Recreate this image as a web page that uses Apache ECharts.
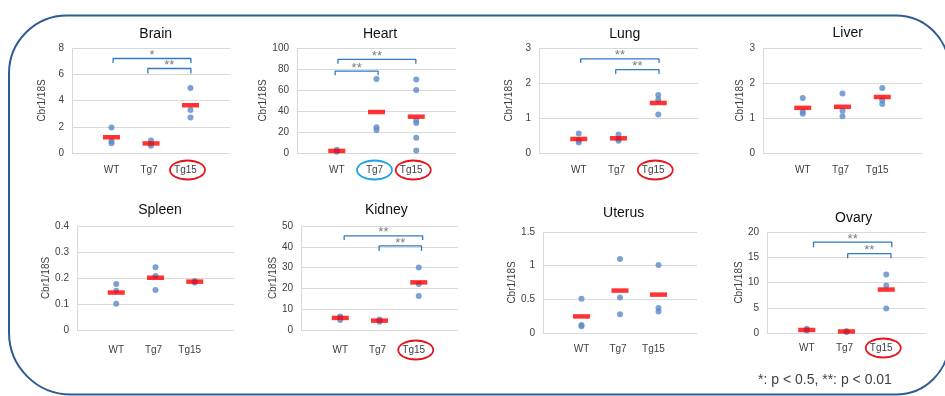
<!DOCTYPE html>
<html><head><meta charset="utf-8">
<script src="https://cdn.jsdelivr.net/npm/echarts@6/dist/echarts.min.js"></script>
<style>html,body{margin:0;padding:0;background:#fff}#c{width:945px;height:396px}</style>
</head><body><div id="c"></div>
<script>
// ---------- data ----------
const groupLabels = ['WT', 'Tg7', 'Tg15'];
const organNames = ['Brain', 'Heart', 'Lung', 'Liver', 'Spleen', 'Kidney', 'Uterus', 'Ovary'];
const yAxisName = 'Cbr1/18S';
const footnote = '*: p < 0.5, **: p < 0.01';

const brainDots = [[1.95, 0.9, 0.75], [0.95, 0.7, 0.55], [4.95, 3.28, 2.7]];
const brainMeans = [1.2, 0.73, 3.64];
const heartDots = [[3, 1.5, 1.5], [70.5, 24.5, 22], [70, 60, 31, 28.5, 14.5, 2.5]];
const heartMeans = [2, 39, 34.6];
const lungDots = [[0.56, 0.36, 0.3], [0.53, 0.4, 0.35], [1.66, 1.53, 1.1]];
const lungMeans = [0.4, 0.42, 1.43];
const liverDots = [[1.57, 1.18, 1.12], [1.7, 1.21, 1.05], [1.86, 1.51, 1.4]];
const liverMeans = [1.29, 1.32, 1.6];
const spleenDots = [[0.177, 0.151, 0.101], [0.241, 0.208, 0.154], [0.185, 0.188, 0.183]];
const spleenMeans = [0.144, 0.201, 0.186];
const kidneyDots = [[6.5, 6.1, 4.8], [5, 4.5, 4], [30.1, 22.1, 16.3]];
const kidneyMeans = [5.8, 4.5, 22.9];
const uterusDots = [[0.51, 0.12, 0.1], [1.1, 0.526, 0.28], [1.01, 0.37, 0.32]];
const uterusMeans = [0.246, 0.63, 0.57];
const ovaryDots = [[0.86, 0.6, 0.5], [0.3, 0.2, 0.35], [11.6, 9.4, 4.85]];
const ovaryMeans = [0.6, 0.3, 8.6];

const yMaxValues = [8, 100, 3, 3, 0.4, 50, 1.5, 20];
const yStepValues = [2, 20, 1, 1, 0.1, 10, 0.5, 5];

// significance brackets: [fromX, toX, barY, endY, stars]
const brainBrackets = [[1.04, 3.01, 7.2, 6.86, '*'], [1.92, 3.01, 6.44, 6.06, '**']];
const heartBrackets = [[1.03, 2.99, 89.2, 85, '**'], [0.96, 2.04, 78, 74, '**']];
const lungBrackets = [[1.05, 3.02, 2.69, 2.57, '**'], [1.93, 3.02, 2.38, 2.26, '**']];
const kidneyBrackets = [[1.1, 3.1, 45.3, 43.3, '**'], [1.99, 3.07, 40.4, 38, '**']];
const ovaryBrackets = [[1.17, 3.14, 18.0, 17.0, '**'], [2.03, 3.12, 15.7, 14.8, '**']];

// circled group labels: [groupIndex, colour]
const brainCircles = [[2, 'red']];
const heartCircles = [[1, 'blue'], [2, 'red']];
const lungCircles = [[2, 'red']];
const kidneyCircles = [[2, 'red']];
const ovaryCircles = [[2, 'red']];

const allDots = [brainDots, heartDots, lungDots, liverDots, spleenDots, kidneyDots, uterusDots, ovaryDots];
const allMeans = [brainMeans, heartMeans, lungMeans, liverMeans, spleenMeans, kidneyMeans, uterusMeans, ovaryMeans];
const allBrackets = [brainBrackets, heartBrackets, lungBrackets, [], [], kidneyBrackets, [], ovaryBrackets];
const allCircles = [brainCircles, heartCircles, lungCircles, [], [], kidneyCircles, [], ovaryCircles];

// ---------- layout / style ----------
const FONT = 'Liberation Sans, Arial, sans-serif';
const layout = [
  {left: 72, top: 48, width: 158, height: 105, nameGap: 25, margin: 12, tx: 155.7, ty: 34},
  {left: 297, top: 48, width: 159, height: 105, nameGap: 25, margin: 12, tx: 380, ty: 34},
  {left: 539, top: 48, width: 159, height: 105, nameGap: 25, margin: 12, tx: 624.7, ty: 34},
  {left: 763, top: 48, width: 159, height: 105, nameGap: 16, margin: 12, tx: 847.7, ty: 33},
  {left: 77, top: 226, width: 157, height: 104, nameGap: 23, margin: 15, tx: 160, ty: 210},
  {left: 301, top: 226, width: 157, height: 104, nameGap: 22, margin: 15, tx: 386.3, ty: 210},
  {left: 543, top: 232, width: 154, height: 101, nameGap: 24, margin: 11, tx: 623.7, ty: 213},
  {left: 767, top: 232, width: 159, height: 101, nameGap: 23, margin: 10, tx: 853.7, ty: 217.7}
];
const DOT = '#5B8BC9', MEAN = '#FF0000', BRACKET = '#2F7BC4', GRID = '#D9D9D9', TXT = '#404040';
const circleColors = {red: '#E8141B', blue: '#22A3E3'};

const grid = [], xAxis = [], yAxis = [], series = [], graphic = [];
layout.forEach((L, i) => {
  grid.push({left: L.left, top: L.top, width: L.width, height: L.height});
  xAxis.push({
    type: 'value', gridIndex: i, min: 0, max: groupLabels.length + 1, interval: 1,
    axisLine: {show: false}, axisTick: {show: false}, splitLine: {show: false},
    axisLabel: {
      margin: L.margin, fontSize: 10, color: TXT, fontFamily: FONT,
      formatter: v => (v >= 1 && v <= groupLabels.length) ? '{g' + v + '|' + groupLabels[v - 1] + '}' : '',
      rich: {
        g1: {fontSize: 10, color: TXT, fontFamily: FONT},
        g2: {fontSize: 10, color: TXT, fontFamily: FONT, padding: [0, 4, 0, 0]},
        g3: {fontSize: 10, color: TXT, fontFamily: FONT, padding: [0, 10, 0, 0]}
      }
    }
  });
  yAxis.push({
    type: 'value', gridIndex: i, min: 0, max: yMaxValues[i], interval: yStepValues[i],
    name: yAxisName, nameLocation: 'middle', nameRotate: 90, nameGap: L.nameGap,
    nameTextStyle: {fontSize: 10, color: TXT, fontFamily: FONT},
    axisLine: {show: true, lineStyle: {color: GRID, width: 1}},
    axisTick: {show: false},
    splitLine: {show: true, lineStyle: {color: GRID, width: 1}},
    axisLabel: {fontSize: 10, color: TXT, fontFamily: FONT, margin: 8}
  });
  // dots
  const pts = [];
  allDots[i].forEach((arr, g) => arr.forEach(v => pts.push([g + 1, v])));
  series.push({type: 'scatter', xAxisIndex: i, yAxisIndex: i, data: pts, symbolSize: 6,
    itemStyle: {color: DOT}, z: 3, silent: true});
  // means
  series.push({type: 'scatter', xAxisIndex: i, yAxisIndex: i,
    data: allMeans[i].map((v, g) => [g + 1, v]), symbol: 'rect', symbolSize: [17, 4.5],
    itemStyle: {color: MEAN}, z: 4, silent: true});
  // brackets
  allBrackets[i].forEach(b => {
    series.push({type: 'line', xAxisIndex: i, yAxisIndex: i,
      data: [[b[0], b[3]], [b[0], b[2]], [b[1], b[2]], [b[1], b[3]]],
      symbol: 'none', lineStyle: {color: BRACKET, width: 1.3}, z: 5, silent: true});
    series.push({type: 'scatter', xAxisIndex: i, yAxisIndex: i,
      data: [[(b[0] + b[1]) / 2, b[2]]], symbolSize: 1, itemStyle: {color: 'rgba(0,0,0,0)'},
      label: {show: true, formatter: b[4], position: 'top', distance: 0, offset: [0, 4],
        fontSize: 13, color: '#595959', fontFamily: FONT}, z: 5, silent: true});
  });
  // titles
  graphic.push({type: 'text', x: L.tx, y: L.ty, silent: true,
    style: {text: organNames[i], fontSize: 14, fontFamily: FONT, fill: '#111', align: 'center', verticalAlign: 'middle'}});
});

graphic.push({type: 'rect', shape: {x: 9, y: 15.5, width: 940, height: 379, r: [58, 53, 53, 62]}, silent: true,
  style: {fill: 'none', stroke: '#2F5B93', lineWidth: 2}});
graphic.push({type: 'text', x: 758, y: 380, silent: true,
  style: {text: footnote, fontSize: 14, fontFamily: FONT, fill: TXT, align: 'left', verticalAlign: 'middle'}});

const chart = echarts.init(document.getElementById('c'), null, {renderer: 'canvas'});
chart.setOption({animation: false, grid, xAxis, yAxis, series, graphic});

// ellipses around highlighted group labels, positioned from the axes
const ellipses = [];
allCircles.forEach((list, i) => {
  const L = layout[i];
  list.forEach(([g, col]) => {
    const p = chart.convertToPixel({xAxisIndex: i, yAxisIndex: i}, [g + 1, 0]);
    const shift = g === 2 ? -3 : -2;
    ellipses.push({type: 'ellipse', silent: true,
      shape: {cx: p[0] + shift, cy: p[1] + L.margin + 5, rx: 17.5, ry: 9.5},
      style: {fill: 'none', stroke: circleColors[col], lineWidth: 1.8}});
  });
});
chart.setOption({graphic: graphic.concat(ellipses)});
</script></body></html>
